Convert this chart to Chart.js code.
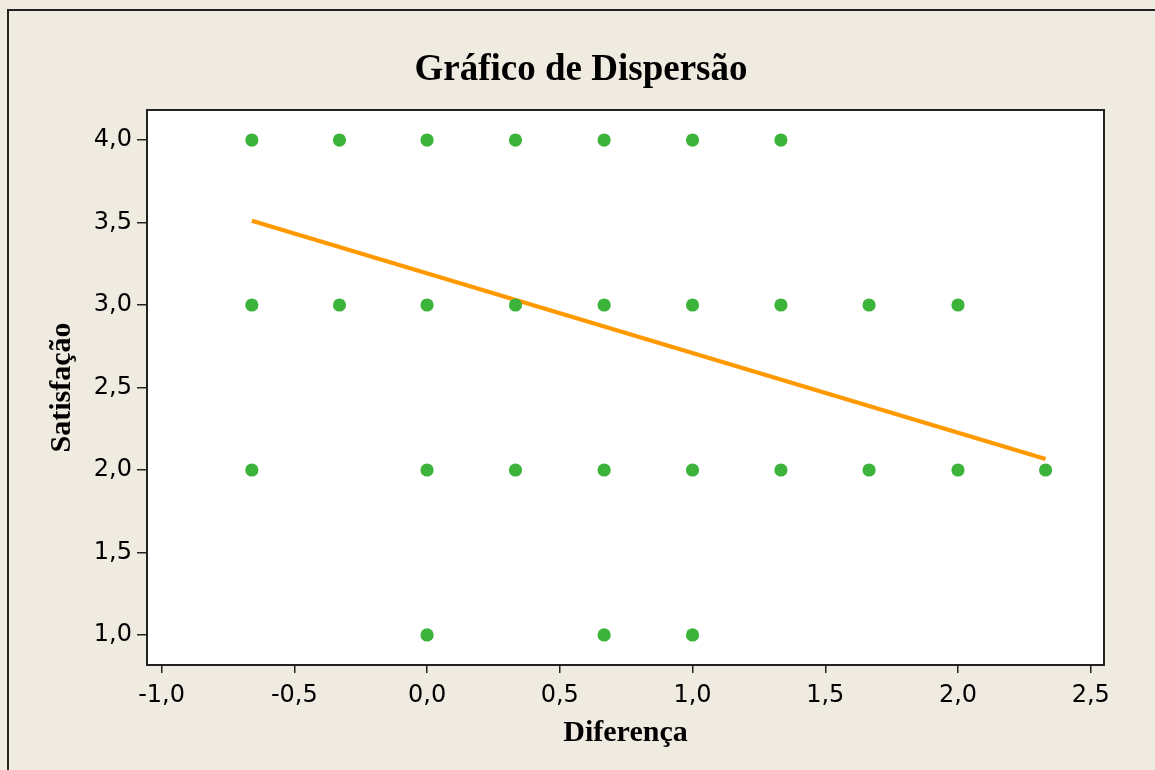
<!DOCTYPE html>
<html>
<head>
<meta charset="utf-8">
<script src="https://cdn.jsdelivr.net/npm/chart.js@4.4.1/dist/chart.umd.min.js"></script>
<style>
    html, body { margin: 0; padding: 0; background: #efebe1; overflow: hidden; }
    #frame { position: absolute; left: 7px; top: 9px; width: 1160px; height: 780px; border: 2px solid #222; }
    #chart { position: absolute; left: 0; top: 0; }
</style>
</head>
<body>
<div id="frame"></div>
<canvas id="chart" width="1155" height="770"></canvas>
<script>
// Points, grouped by satisfaction level
const xAt4 = [-0.66, -0.33, 0, 0.333, 0.667, 1, 1.333];
const xAt3 = [-0.66, -0.33, 0, 0.333, 0.667, 1, 1.333, 1.665, 2];
const xAt2 = [-0.66, 0, 0.333, 0.667, 1, 1.333, 1.665, 2, 2.33];
const xAt1 = [0, 0.667, 1];

// Fitted line endpoints (as drawn)
const fitX = [-0.66, 2.33];
const fitY = [3.511, 2.067];

const xTicks = [-1.0, -0.5, 0.0, 0.5, 1.0, 1.5, 2.0, 2.5];
const yTicks = [1.0, 1.5, 2.0, 2.5, 3.0, 3.5, 4.0];

const points = [];
[[4, xAt4], [3, xAt3], [2, xAt2], [1, xAt1]].forEach(([y, xs]) => {
    xs.forEach(x => points.push({ x: x, y: y }));
});
const fitLine = fitX.map((x, i) => ({ x: x, y: fitY[i] }));

const fmt = v => v.toFixed(1).replace('.', ',');

// white plot area with a black frame
const plotFrame = {
    id: 'plotFrame',
    beforeDatasetsDraw(chart) {
        const { ctx, chartArea: a } = chart;
        ctx.save();
        ctx.fillStyle = '#ffffff';
        ctx.fillRect(a.left, a.top, a.right - a.left, a.bottom - a.top);
        ctx.restore();
    },
    afterDraw(chart) {
        const { ctx, chartArea: a } = chart;
        ctx.save();
        ctx.strokeStyle = '#222';
        ctx.lineWidth = 2;
        ctx.strokeRect(a.left, a.top, a.right - a.left, a.bottom - a.top);
        ctx.restore();
    }
};

new Chart(document.getElementById('chart').getContext('2d'), {
    type: 'scatter',
    data: {
        datasets: [
            {
                type: 'line',
                data: fitLine,
                borderColor: '#ff9900',
                borderWidth: 4.3,
                pointRadius: 0,
                fill: false,
                order: 2
            },
            {
                data: points,
                backgroundColor: '#3cb43c',
                borderWidth: 0,
                pointRadius: 6.6,
                order: 1
            }
        ]
    },
    options: {
        responsive: false,
        devicePixelRatio: 1,
        animation: false,
        layout: { padding: { left: 7, top: 0, right: 0, bottom: 0 } },
        plugins: {
            legend: { display: false },
            tooltip: { enabled: false },
            title: {
                display: true,
                text: 'Gráfico de Dispersão',
                color: '#000',
                font: { family: 'Liberation Serif', size: 37, weight: 'bold', lineHeight: 1.2 },
                padding: { top: 48, bottom: 17.6 }
            }
        },
        scales: {
            x: {
                type: 'linear',
                min: -1.055,
                max: 2.55,
                afterBuildTicks: scale => { scale.ticks = xTicks.map(v => ({ value: v })); },
                afterFit: scale => { scale.height = 105; },
                ticks: {
                    color: '#000',
                    font: { family: 'DejaVu Sans', size: 24 },
                    padding: 8,
                    maxRotation: 0,
                    callback: v => fmt(v)
                },
                grid: { drawOnChartArea: false, drawTicks: true, tickLength: 8, color: '#222', lineWidth: 1.5 },
                border: { display: false },
                title: {
                    display: true,
                    text: 'Diferença',
                    color: '#000',
                    font: { family: 'Liberation Serif', size: 30, weight: 'bold', lineHeight: 1.2 },
                    padding: { top: 0, bottom: 19 }
                }
            },
            y: {
                type: 'linear',
                min: 0.818,
                max: 4.182,
                afterBuildTicks: scale => { scale.ticks = yTicks.map(v => ({ value: v })); },
                afterFit: scale => { scale.width = 140; },
                ticks: {
                    color: '#000',
                    font: { family: 'DejaVu Sans', size: 24 },
                    padding: 5,
                    callback: v => fmt(v)
                },
                grid: { drawOnChartArea: false, drawTicks: true, tickLength: 10, color: '#222', lineWidth: 1.5 },
                border: { display: false },
                title: {
                    display: true,
                    text: 'Satisfação',
                    color: '#000',
                    font: { family: 'Liberation Serif', size: 30, weight: 'bold', lineHeight: 1.2 },
                    padding: { top: 37, bottom: 0 }
                }
            },
            // empty right-hand margin, keeps the title centred on the whole frame
            yRight: {
                type: 'linear',
                position: 'right',
                min: 0.818,
                max: 4.182,
                afterFit: scale => { scale.width = 51; },
                ticks: { display: false },
                grid: { display: false },
                border: { display: false }
            }
        }
    },
    plugins: [plotFrame]
});
</script>
</body>
</html>
